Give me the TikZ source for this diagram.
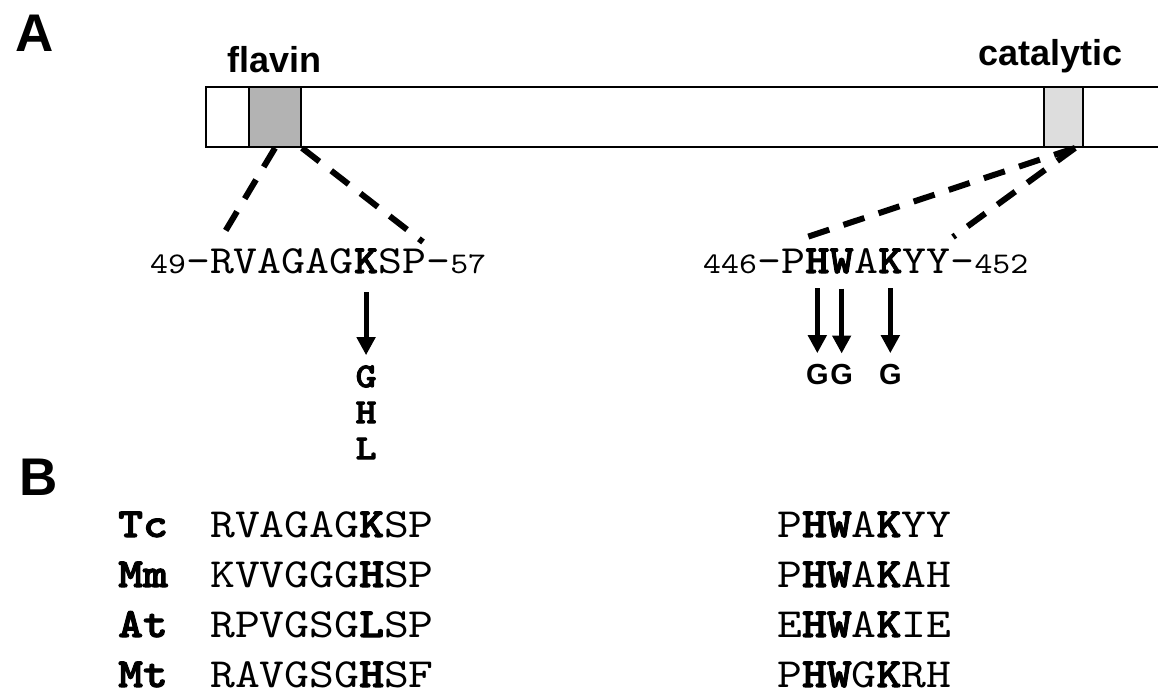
\documentclass[tikz,border=0pt]{standalone}
\usepackage{fontspec}
\setmainfont{Liberation Sans}
\newfontfamily\courfont{lmmono10-regular.otf}[BoldFont=lmmonolt10-bold.otf, BoldFeatures={FakeBold=2.5}, FakeStretch=1.14]
\usetikzlibrary{arrows.meta,positioning}
\definecolor{flavgray}{HTML}{B3B3B3}
\definecolor{catgray}{HTML}{DDDDDD}
\newcommand\resno[1]{{\fontsize{30}{30}\selectfont #1}}

\begin{document}
\begin{tikzpicture}[
  x=1pt, y=-1pt,
  > = {Triangle[width=18pt,length=18pt]},
  panel/.style = {font=\fontsize{53}{53}\selectfont\bfseries, anchor=base west, inner sep=0pt},
  dlabel/.style = {font=\fontsize{36}{36}\selectfont\bfseries, anchor=base, inner sep=0pt},
  domainbox/.style = {draw, line width=2pt, minimum height=60pt, inner sep=0pt},
  seq/.style = {font=\fontsize{40}{40}\selectfont\courfont, anchor=base west, inner sep=0pt},
  row/.style = {font=\fontsize{41.5}{41.5}\selectfont\courfont, anchor=base west, inner sep=0pt},
  mutc/.style = {font=\fontsize{35}{35}\selectfont\courfont\bfseries, inner sep=0pt},
  muts/.style = {font=\fontsize{29}{29}\selectfont\bfseries, inner sep=0pt},
  zoomline/.style = {dashed, line width=6pt, dash pattern=on 22pt off 15pt},
  mutarrow/.style = {->, line width=5pt}
  ]
  \useasboundingbox (0,0) rectangle (1158,696);
  \node[panel] (pA) at (15,51) {A};
  \node[panel] (pB) at (19,495) {B};

  \draw[line width=2pt] (1160,87) -| (206,147) -- (1160,147);
  \node[domainbox, fill=flavgray, minimum width=52pt] (flavin) at (275,117) {};
  \node[domainbox, fill=catgray, minimum width=39pt] (cat) at (1063.5,117) {};
  \node[dlabel] (flavinlbl) at (274.5,72) {flavin};
  \node[dlabel] (catlbl) at (1050.5,65) {catalytic};

  \node[seq] (flvA) at (150,273) {\resno{49}-RVAGAG};
  \node[seq] (flvK) at (flvA.base east) {\textbf{K}};
  \node[seq] (flvB) at (flvK.base east) {SP-\resno{57}};

  \node[seq] (catA) at (703,273) {\resno{446}-P};
  \node[seq] (catH) at (catA.base east) {\textbf{H}};
  \node[seq] (catW) at (catH.base east) {\textbf{W}};
  \node[seq] (catB) at (catW.base east) {A};
  \node[seq] (catK) at (catB.base east) {\textbf{K}};
  \node[seq] (catC) at (catK.base east) {YY-\resno{452}};

  \coordinate (fl1) at (220,240);
  \coordinate (fl2) at (423,242);
  \coordinate (ct1) at (798,240);
  \coordinate (ct2) at (953,237);
  \draw[zoomline] (flavin.south) -- (fl1);
  \draw[zoomline] (flavin.south east) -- (fl2);
  \draw[zoomline] ([xshift=-9pt]cat.south east) -- (ct1);
  \draw[zoomline] ([xshift=-9pt]cat.south east) -- (ct2);

  \node[mutc, below=92pt of flvK] (mutG) {G};
  \node[mutc, anchor=base] (mutH) at ([yshift=-36pt]mutG.base) {H};
  \node[mutc, anchor=base] (mutL) at ([yshift=-36pt]mutH.base) {L};
  \draw[mutarrow] ([yshift=-19pt]flvK.south) -- ([yshift=10pt]mutG.north);

  \node[muts, below=91pt of catH] (gH) {G};
  \node[muts, below=91pt of catW] (gW) {G};
  \node[muts, below=91pt of catK] (gK) {G};
  \draw[mutarrow] ([yshift=-15pt]catH.south) -- ([yshift=11pt]gH.north);
  \draw[mutarrow] ([yshift=-15pt]catW.south) -- ([yshift=11pt]gW.north);
  \draw[mutarrow] ([yshift=-15pt]catK.south) -- ([yshift=11pt]gK.north);

  \foreach \sp/\fl/\ct [count=\i] in {Tc/RVAGAG\textbf{K}SP/P\textbf{HW}A\textbf{K}YY,
      Mm/KVVGGG\textbf{H}SP/P\textbf{HW}A\textbf{K}AH,
      At/RPVGSG\textbf{L}SP/E\textbf{HW}A\textbf{K}IE,
      Mt/RAVGSG\textbf{H}SF/P\textbf{HW}G\textbf{K}RH} {
    \node[row] (sp\i) at (118,487+50*\i) {\textbf{\sp}};
    \node[row] (fl\i) at (210,487+50*\i) {\fl};
    \node[row] (ct\i) at (777,487+50*\i) {\ct};
  }
\end{tikzpicture}
\end{document}
